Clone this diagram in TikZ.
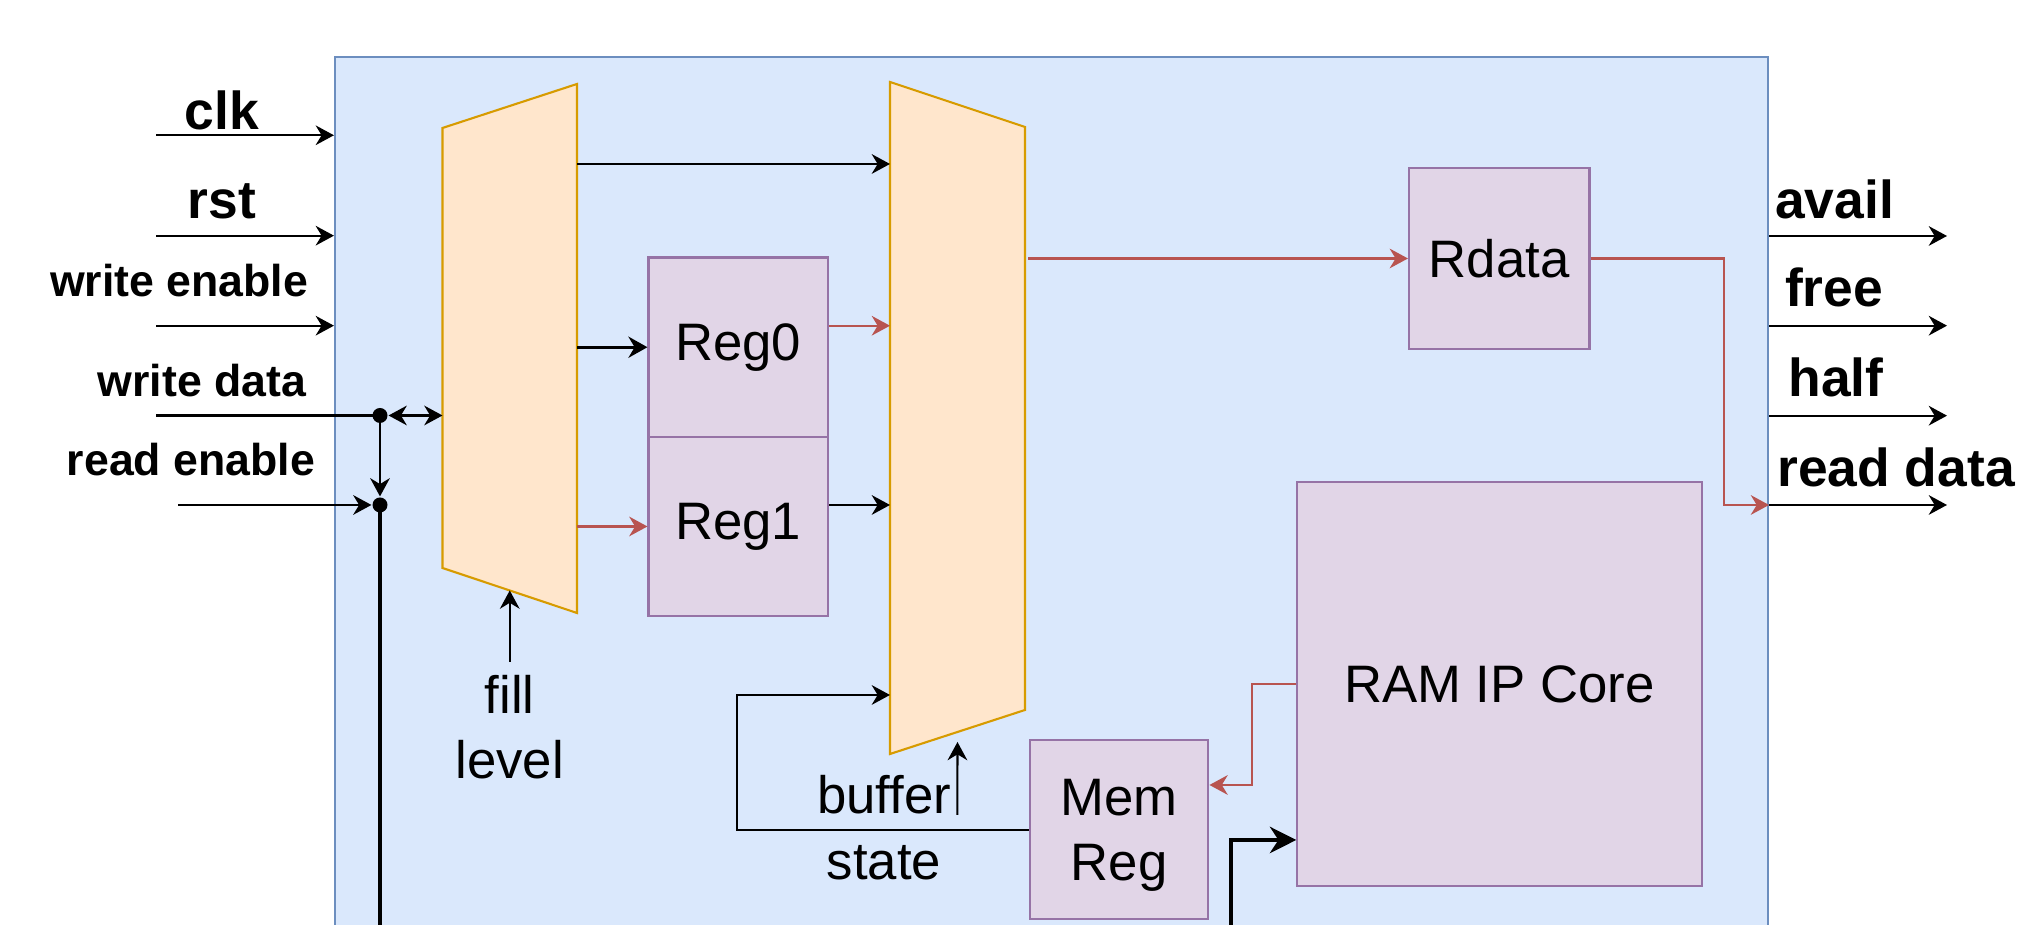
\documentclass[tikz,border=0pt]{standalone}
\usepackage{fontspec}
\setmainfont{Liberation Sans}
\usetikzlibrary{arrows.meta}

\definecolor{boxfill}{HTML}{DAE8FC}
\definecolor{boxline}{HTML}{6C8EBF}
\definecolor{muxfill}{HTML}{FFE6CC}
\definecolor{muxline}{HTML}{D79B00}
\definecolor{regfill}{HTML}{E1D5E7}
\definecolor{regline}{HTML}{9673A6}
\definecolor{datared}{HTML}{B85450}

\begin{document}
\begin{tikzpicture}[line width=0.6pt,>={Stealth[length=5.2pt,width=5.6pt]},
  reg/.style={draw=regline,fill=regfill,line width=0.6pt,inner sep=0pt,align=center,font=\fontsize{15}{18.5}\selectfont},
  sig/.style={anchor=base,inner sep=0pt,font=\bfseries\fontsize{15.2}{18}\selectfont},
  sigs/.style={anchor=base,inner sep=0pt,font=\bfseries\fontsize{12.7}{15}\selectfont},
  txt/.style={anchor=north,inner sep=0pt,align=center,font=\fontsize{15}{18.7}\selectfont},
  rline/.style={draw=datared,>={Stealth[length=5.2pt,width=5.6pt,datared]}},
  heavy/.style={line width=1.2pt,>={Stealth[length=7.5pt,width=7.5pt]}},
  regin/.style={line width=0.9pt,>={Stealth[length=5.4pt,width=6pt]}},
  dot/.style={circle,fill,inner sep=0pt,minimum size=0.15cm}]
\useasboundingbox (0,0) rectangle (20.23,9.25);
\clip (0,0) rectangle (20.23,9.25);
% 外框
\node[draw=boxline,fill=boxfill,line width=0.6pt,inner sep=0pt,minimum width=14.33cm,minimum height=8.98cm] (fifo) at (10.515,4.19) {};
% 两个选择器
\draw[draw=muxline,fill=muxfill,line width=0.6pt] (4.425,7.97) coordinate (muxA-tl) -- (5.77,8.41) coordinate (muxA-tr)
  -- (5.77,3.12) coordinate (muxA-br) -- (4.425,3.57) coordinate (muxA-bl) -- cycle;
\draw[draw=muxline,fill=muxfill,line width=0.6pt] (8.90,8.43) coordinate (muxB-tl) -- (10.25,7.98) coordinate (muxB-tr)
  -- (10.25,2.15) coordinate (muxB-br) -- (8.90,1.71) coordinate (muxB-bl) -- cycle;
\coordinate (muxA-b) at (5.0975,3.345);
\coordinate (muxB-b) at (9.575,1.93);
\coordinate (muxA-o1) at (5.77,7.61);
\coordinate (muxB-i3) at (8.90,2.30);
% 寄存器与存储
\node[reg,minimum width=1.795cm,minimum height=1.795cm] (reg0) at (7.3825,5.7775) {Reg0};
\node[reg,minimum width=1.795cm,minimum height=1.79cm] (reg1) at (7.3825,3.985) {Reg1};
\node[reg,minimum width=1.805cm,minimum height=1.804cm] (rdata) at (14.9925,6.665) {Rdata};
\node[reg,minimum width=4.044cm,minimum height=4.034cm] (ram) at (14.995,2.41) {RAM IP Core};
\node[reg,minimum width=1.788cm,minimum height=1.79cm,text depth=0pt] (memreg) at (11.19,0.952) {Mem\\Reg};
% 输入信号
\coordinate (clkin) at (1.56,7.897);
\coordinate (rstin) at (1.56,6.893);
\coordinate (wein) at (1.56,5.993);
\coordinate (wdin) at (1.56,5.095);
\coordinate (rein) at (1.78,4.20);
\node[sig] (clklbl) at (2.22,7.95) {clk};
\node[sig] (rstlbl) at (2.22,7.067) {rst};
\node[sigs] (welbl) at (1.79,6.283) {write enable};
\node[sigs] (wdlbl) at (2.02,5.283) {write data};
\node[sigs] (relbl) at (1.91,4.49) {read enable};
\draw[->] (clkin) -- (clkin -| fifo.west);
\draw[->] (rstin) -- (rstin -| fifo.west);
\draw[->] (wein) -- (wein -| fifo.west);
\node[dot] (wdot) at (3.80,5.095) {};
\node[dot] (rdot) at (3.80,4.20) {};
\draw (wdin) -- (wdot.center);
\draw[<->] (wdot) -- (wdot -| muxA-bl);
\draw[->] (wdot.center) -- (rdot);
\draw[->] (rein) -- (rdot);
\draw[heavy] (rdot.center) -- (rdot |- fifo.south);
% 输出信号
\coordinate (availout) at (19.47,6.89);
\coordinate (freeout) at (19.47,5.993);
\coordinate (halfout) at (19.47,5.093);
\coordinate (rdout) at (19.47,4.20);
\node[sig] (availlbl) at (18.345,7.067) {avail};
\node[sig] (freelbl) at (18.34,6.18) {free};
\node[sig] (halflbl) at (18.36,5.28) {half};
\node[sig] (rdlbl) at (18.96,4.383) {read data};
\draw[->] (availout -| fifo.east) -- (availout);
\draw[->] (freeout -| fifo.east) -- (freeout);
\draw[->] (halfout -| fifo.east) -- (halfout);
\draw[->] (rdout -| fifo.east) -- (rdout);
% 内部数据通路
\coordinate (r0out) at ([yshift=2.15mm]reg0.east);
\coordinate (r1out) at ([yshift=2.15mm]reg1.east);
\draw[->] (muxA-o1) -- (muxA-o1 -| muxB-tl);
\draw[regin,->] (reg0.west -| muxA-tr) -- (reg0.west);
\draw[rline,->] (reg1.west -| muxA-tr) -- (reg1.west);
\draw[rline,->] (r0out) -- (r0out -| muxB-tl);
\draw[->] (r1out) -- (r1out -| muxB-tl);
\draw[rline,->] ([xshift=0.3mm]rdata.west -| muxB-tr) -- (rdata.west);
\draw[rline,->] (rdata.east) -- ++(1.338,0) |- (rdout -| fifo.east);
\draw[rline,->] (ram.west) -- ++(-0.44,0) |- ([yshift=4.48mm]memreg.east);
\draw[->] (memreg.west) -- ++(-2.912,0) |- (muxB-i3);
\coordinate (ramin) at (12.31,-0.3);
\draw[heavy,->] (ramin) |- ([yshift=-15.6mm]ram.west);
% 控制标注
\node[txt] (filllbl) at (5.0975,2.51) {fill\\level};
\draw[->] ([yshift=1.2mm]filllbl.north) -- (muxA-b);
\node[txt] (buflbl) at (8.84,1.507) {buffer\\state};
\coordinate (bufarr) at (9.573,1.10);
\draw[->] (bufarr) -- ([yshift=-1mm]muxB-b);
\end{tikzpicture}
\end{document}
